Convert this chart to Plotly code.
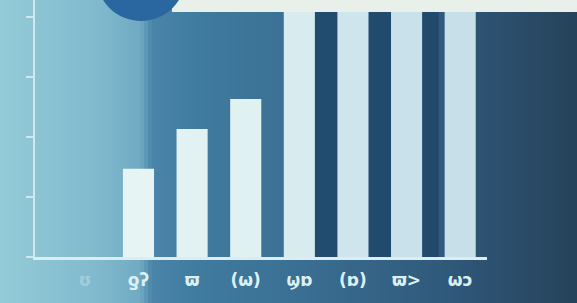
import plotly.graph_objects as go

# ---- data ----
categories = [0, 1, 2, 3, 4, 5, 6, 7]
tick_labels = ["ʊ", "ƍʔ", "ϖ", "(ω)", "ϣɒ", "(ɒ)", "ϖ>", "ωɔ"]
values = [0, 1.47, 2.13, 2.63, 4.5, 4.5, 4.5, 4.5]
bar_colors = ["#e2f2f3", "#e6f4f3", "#e2f2f2", "#e0f1f2", "#d8ecf0", "#cfe5ed", "#c9e1ea", "#c6dfe9"]

W, H = 577, 303

fig = go.Figure()
fig.add_trace(go.Bar(
    x=categories, y=values, width=0.58,
    marker=dict(color=bar_colors, line=dict(width=0)),
    showlegend=False,
))

# background gradient strips (paper coords)
stops = [(0, (0x93, 0xcb, 0xd8)), (100, (0x80, 0xb9, 0xcd)), (140, (0x70, 0xaa, 0xc3)),
         (152, (0x4a, 0x85, 0xa9)), (200, (0x3f, 0x7b, 0x9e)), (300, (0x3a, 0x6f, 0x93)),
         (450, (0x2f, 0x58, 0x7a)), (577, (0x26, 0x42, 0x5a))]

def col_at(px):
    for (a, ca), (b, cb) in zip(stops[:-1], stops[1:]):
        if a <= px <= b:
            t = (px - a) / (b - a) if b > a else 0
            c = [round(ca[i] + (cb[i] - ca[i]) * t) for i in range(3)]
            return "rgb(%d,%d,%d)" % tuple(c)
    return "rgb(38,66,90)"

shapes = []
step = 4
for px in range(0, W, step):
    shapes.append(dict(type="rect", xref="paper", yref="paper", layer="below",
                       x0=(px - 35) / 452, x1=(px + step + 1 - 35) / 452,
                       y0=-46 / 257, y1=1.2, line=dict(width=0),
                       fillcolor=col_at(px + step / 2)))
# darker navy backdrop behind the tall bars
shapes.append(dict(type="rect", xref="x", yref="paper", layer="below",
                   x0=3.8, x1=6.6, y0=0, y1=1, line=dict(width=0),
                   fillcolor="#1f4669", opacity=0.85))
# top cream band
shapes.append(dict(type="rect", xref="paper", yref="paper", layer="above",
                   x0=(172 - 35) / 452, x1=(W - 35) / 452, y0=1 - 12 / 257, y1=1.05,
                   line=dict(width=0), fillcolor="#e9f0ea"))
# circle at top
shapes.append(dict(type="circle", xref="paper", yref="paper", layer="above",
                   x0=(96 - 35) / 452, x1=(186 - 35) / 452,
                   y0=1 - 21 / 257, y1=1 + 70 / 257,
                   line=dict(width=0), fillcolor="#2a66a0"))

fig.update_layout(
    width=W, height=H,
    margin=dict(l=35, r=90, t=0, b=46),
    paper_bgcolor="#3f7b9e",
    plot_bgcolor="rgba(0,0,0,0)",
    shapes=shapes,
    bargap=0.4,
    font=dict(family="DejaVu Sans", color="#dcf0f2"),
    xaxis=dict(
        range=[-0.93, 7.5], tickvals=categories,
        ticktext=['<span style="color:rgba(220,240,242,0.35)">%s</span>' % tick_labels[0]] + tick_labels[1:],
        tickfont=dict(size=17, color="#dcf0f2", weight="bold"),
        showgrid=False, zeroline=False, showline=True,
        linecolor="#dcecef", linewidth=3, ticks="", ticklabelstandoff=6,
    ),
    yaxis=dict(
        range=[0, 4.28], dtick=1, showticklabels=False,
        showgrid=False, zeroline=False, showline=True,
        linecolor="#cfe8ee", linewidth=2, ticks="outside", ticklen=7,
        tickcolor="#cfe8ee", tickwidth=2,
    ),
)

fig.write_html("out.html", config={"displayModeBar": False},
               post_script="document.body.style.margin='0';document.body.style.overflow='hidden';")
